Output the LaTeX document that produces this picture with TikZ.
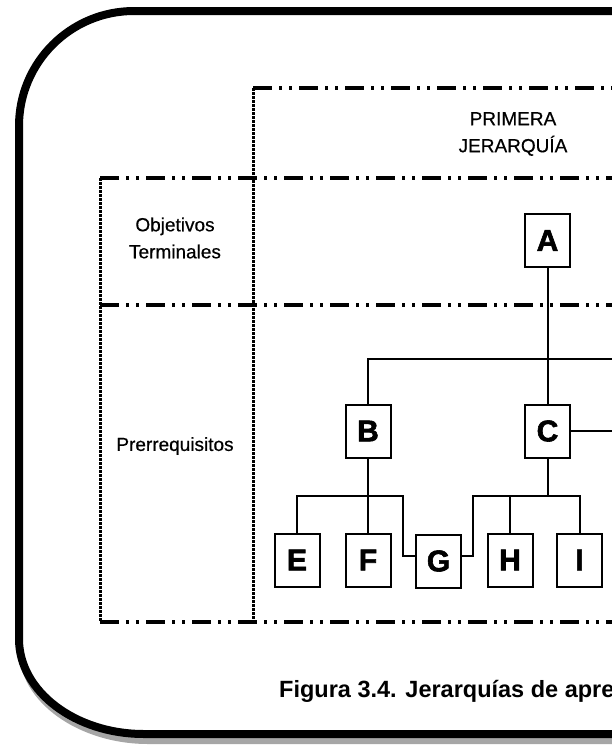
\documentclass[tikz,border=0pt]{standalone}
\usepackage{fontspec}
\setmainfont{Liberation Sans}
\newfontfamily\heavyfont[FakeBold=2]{Liberation Sans Bold}
\newfontfamily\labelfont[FakeBold=0.5]{Liberation Sans}
\begin{document}
\begin{tikzpicture}[x=1pt,y=-1pt,
  ddline/.style={line width=4pt, dash pattern=on 19pt off 7pt on 3pt off 7pt on 3pt off 7pt},
  vdot/.style={line width=3pt, dash pattern=on 2.5pt off 1.5pt},
  lbox/.style={draw, line width=2pt, minimum width=45pt, minimum height=53pt, inner sep=0pt,
    font=\heavyfont\fontsize{30}{30}\selectfont},
  conn/.style={line width=2pt},
  lbl/.style={font=\labelfont\fontsize{19}{27}\selectfont, align=center, inner sep=0pt},
  outerframe/.style={line width=8pt, fill=white},
  shadowframe/.style={fill=black!35}
]
\useasboundingbox (0,0) rectangle (612,745);
\clip (0,0) rectangle (612,745);

% outer rounded frame with shadow
\fill[shadowframe] (704,10) -- (138,10) .. controls (74.5,10) and (19,66.5) .. (19,131)
  -- (19,650) .. controls (19,702.5) and (79.3,744) .. (148,744) -- (704,744) -- cycle;
\draw[outerframe] (700,11) -- (134,11) .. controls (70.5,11) and (19,62.5) .. (19,126)
  -- (19,639) .. controls (19,691.5) and (75.3,734) .. (144,734) -- (700,734) -- cycle;

% grid lines
\draw[ddline] (253,88) -- (620,88);
\draw[ddline] (100,178) -- (620,178);
\draw[ddline] (100,305) -- (620,305);
\draw[ddline] (100,622) -- (620,622);
\draw[vdot] (100,178) -- (100,622);
\draw[vdot] (253,88) -- (253,622);

% labels
\node[lbl] (hdr) at (513,134) {PRIMERA\\JERARQUÍA};
\node[lbl] (obj) at (175,238) {Objetivos\\Terminales};
\node[lbl] (pre) at (175,446) {Prerrequisitos};

% boxes
\node[lbox] (A) at (547.5,240.5) {A};
\node[lbox] (B) at (368,431) {B};
\node[lbox] (C) at (547.5,431) {C};
\node[lbox] (E) at (297,560) {E};
\node[lbox] (F) at (368,560) {F};
\node[lbox] (G) at (438.5,561) {G};
\node[lbox] (H) at (510,560) {H};
\node[lbox] (I) at (579.5,560) {I};

% junction coordinates
\coordinate (jA) at (547.5,359);
\coordinate (rA) at (620,359);
\coordinate (rC) at (620,431);
\coordinate (jB) at (368,496);
\coordinate (gl) at (403,556);
\coordinate (jC) at (547.5,496);
\coordinate (gr) at (473,556);

% connectors
\draw[conn] (A.south) -- (C.north);
\draw[conn] (B.north) |- (jA) -- (rA);
\draw[conn] (C.east) -- (rC);
\draw[conn] (B.south) -- (F.north);
\draw[conn] (E.north) |- (jB) -| (gl) -- (gl -| G.west);
\draw[conn] (C.south) -- (jC);
\draw[conn] (gr -| G.east) -- (gr) |- (jC) -| (I.north);
\draw[conn] (H.north) -- (H.north |- jC);

% caption
\node[anchor=base west, inner sep=0pt, font=\bfseries\fontsize{23.5}{28}\selectfont] (cap) at (279,697) {Figura 3.4. Jerarquías de apre};
\end{tikzpicture}
\end{document}
